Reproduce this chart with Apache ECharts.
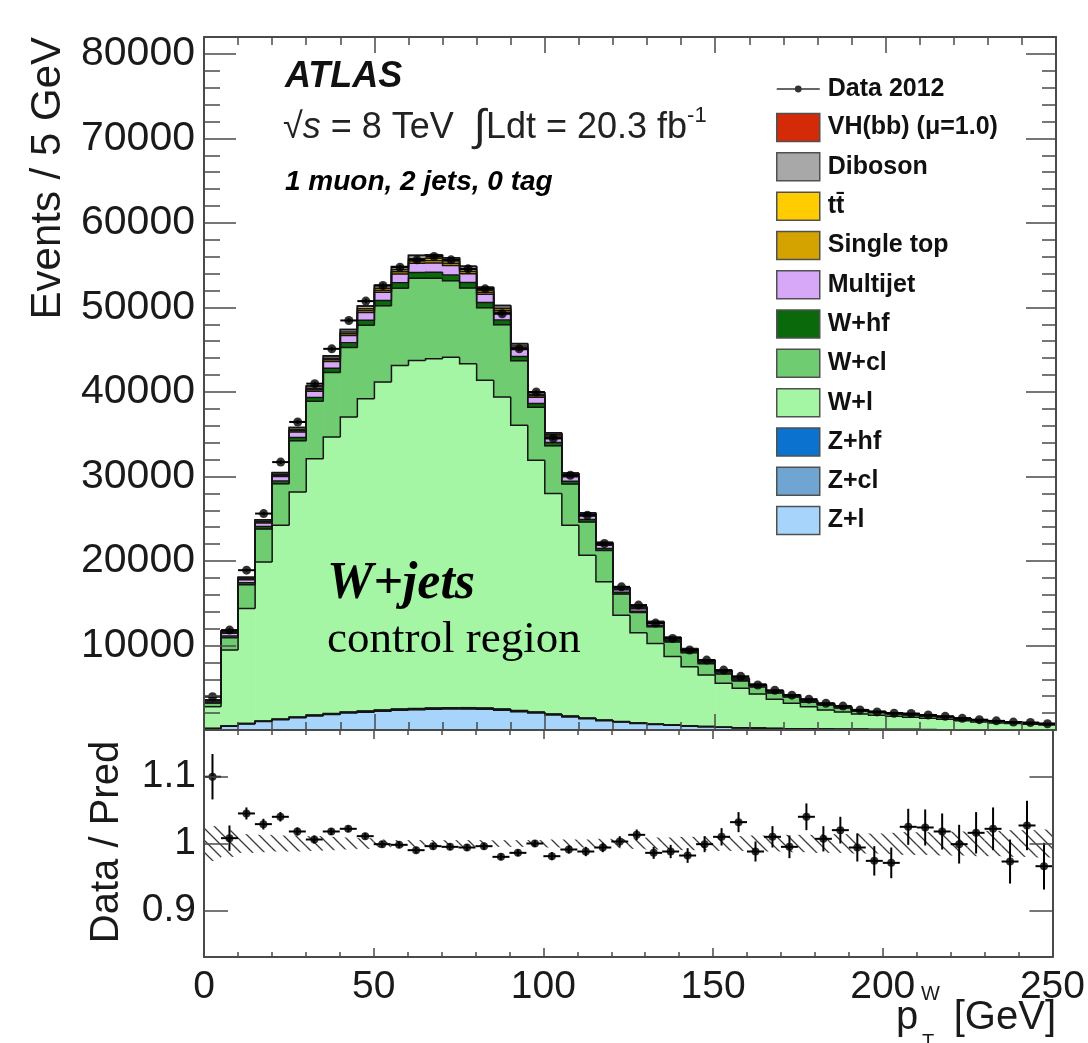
<!DOCTYPE html>
<html>
<head>
<meta charset="utf-8">
<script src="https://cdn.jsdelivr.net/npm/echarts@6/dist/echarts.min.js"></script>
<style>
  html, body { margin: 0; padding: 0; background: #ffffff; }
  #chart { width: 1088px; height: 1043px; }
</style>
</head>
<body>
<div id="chart"></div>
<script>
// ---- binning: p_T^W in 5 GeV bins ----
const binEdges = [0,5,10,15,20,25,30,35,40,45,50,55,60,65,70,75,80,85,90,95,100,105,110,115,120,125,130,135,140,145,150,155,160,165,170,175,180,185,190,195,200,205,210,215,220,225,230,235,240,245,250];

// ---- observed events per bin ----
const dataCounts = [3940,11820,18910,25610,31700,36450,40980,45100,48460,50750,52600,54760,55630,56030,55630,54570,52200,49250,45100,39990,34500,30140,25410,22070,16940,14780,12650,10840,9460,8270,7090,6350,5330,4700,4120,3650,3160,2830,2380,2140,1980,1950,1780,1620,1380,1220,1080,935,885,735];

// ---- predicted events per bin, per process (stack order bottom -> top) ----
const zLight    = [169,442,723,996,1221,1448,1663,1833,2002,2115,2219,2331,2388,2444,2481,2481,2444,2331,2161,2002,1777,1551,1335,1109,940,781,657,554,461,386,320,263,217,178,151,122,103,90,75,66,56,49,42,37,32,29,26,23,20,17];
const zCl       = [8,21,35,48,59,69,80,88,96,101,106,112,114,117,119,119,117,112,104,96,85,74,64,53,45,37,32,27,22,18,15,13,10,9,7,6,5,4,4,3,3,2,2,2,2,1,1,1,1,1];
const zHf       = [3,7,12,16,20,23,27,29,32,34,35,37,38,39,40,40,39,37,35,32,28,25,21,18,15,12,11,9,7,6,5,4,3,3,2,2,2,1,1,1,1,1,1,1,1,0,0,0,0,0];
const wLight    = [2580,8990,13610,18830,22930,26630,30340,32720,34900,36950,38810,40660,41190,41340,41480,40700,38770,36920,33750,29780,26090,22580,19270,16350,12590,10690,9550,8110,6990,6090,5180,4650,4020,3440,3000,2630,2250,2035,1810,1680,1560,1458,1335,1225,1055,920,808,731,659,582];
const wCl       = [420,1470,2820,3900,4900,6050,6780,7630,8240,8700,9030,9130,9710,9510,9040,8960,8590,8550,7640,6280,5640,4880,3930,3720,2500,2370,1960,1720,1660,1350,1120,880,850,750,740,535,585,475,340,305,285,265,245,220,195,165,147,135,116,102];
const wHf       = [100,200,225,275,340,400,460,500,540,575,610,650,690,700,690,650,610,575,510,450,390,325,275,240,200,175,155,140,120,110,95,85,75,68,60,54,49,44,40,36,34,31,29,26,24,21,20,18,16,15];
const multijet  = [160,320,360,440,540,640,740,800,860,920,980,1040,1100,1120,1100,1040,980,920,820,720,620,520,440,380,320,280,248,220,196,172,152,136,120,108,96,86,78,70,64,58,54,50,46,42,38,34,31,28,26,23];
const singleTop = [40,80,90,110,135,160,185,200,215,230,245,260,275,280,275,260,245,230,205,180,155,130,110,95,80,70,62,55,49,43,38,34,30,27,24,22,20,18,16,15,14,13,12,11,10,9,8,7,6,6];
const ttbar     = [30,60,75,95,120,145,170,185,200,215,230,245,260,265,262,250,238,225,200,178,155,132,112,98,84,74,66,59,53,47,42,38,34,31,28,25,23,21,19,18,17,16,15,14,12,11,10,9,8,7];
const diboson   = [56,112,126,154,189,224,259,280,301,322,343,364,385,392,385,364,343,322,287,252,217,182,154,133,112,98,87,77,69,60,53,48,42,38,34,30,27,25,22,20,19,18,16,15,13,12,11,10,9,8];
const vhbb      = [2,4,5,6,7,8,9,10,11,12,12,13,14,14,14,13,12,12,10,9,8,7,6,5,4,4,3,3,3,2,2,2,2,1,1,1,1,1,1,1,1,1,1,1,1,1,1,0,0,0];

// ---- data / prediction ----
const ratioValues = [1.100,1.008,1.045,1.029,1.040,1.018,1.006,1.018,1.022,1.011,0.999,0.998,0.990,0.996,0.995,0.994,0.996,0.980,0.986,1.000,0.981,0.991,0.988,0.994,1.003,1.013,0.986,0.988,0.982,0.999,1.010,1.032,0.988,1.010,0.995,1.040,1.007,1.020,0.994,0.974,0.971,1.025,1.024,1.018,0.999,1.016,1.022,0.973,1.027,0.966];
const ratioErrors = [0.034,0.019,0.009,0.008,0.007,0.006,0.006,0.005,0.005,0.005,0.005,0.005,0.005,0.005,0.005,0.005,0.005,0.005,0.005,0.005,0.006,0.006,0.007,0.007,0.008,0.008,0.009,0.010,0.011,0.012,0.013,0.015,0.015,0.016,0.017,0.020,0.019,0.020,0.021,0.022,0.023,0.027,0.027,0.027,0.029,0.031,0.032,0.033,0.037,0.035];
// relative MC statistical uncertainty (hatched band)
const mcStatBand = [0.026,0.020,0.014,0.013,0.012,0.012,0.011,0.010,0.009,0.008,0.006,0.005,0.005,0.005,0.005,0.005,0.005,0.005,0.005,0.005,0.006,0.006,0.006,0.007,0.007,0.008,0.009,0.009,0.010,0.010,0.011,0.011,0.012,0.012,0.013,0.013,0.014,0.014,0.015,0.015,0.016,0.017,0.017,0.018,0.018,0.019,0.019,0.020,0.020,0.021];

// ---- tick values ----
const xTicks = [0, 50, 100, 150, 200, 250];
const ratioTicks = [0.9, 1, 1.1];

// process list, bottom of the stack first
const processes = [
  { name: 'Z+l',              values: zLight,    color: '#a6d4fa' },
  { name: 'Z+cl',             values: zCl,       color: '#6fa4d3' },
  { name: 'Z+hf',             values: zHf,       color: '#0b72d0' },
  { name: 'W+l',              values: wLight,    color: '#a4f6a4' },
  { name: 'W+cl',             values: wCl,       color: '#70cc70' },
  { name: 'W+hf',             values: wHf,       color: '#0a690a' },
  { name: 'Multijet',         values: multijet,  color: '#d6a8f7' },
  { name: 'Single top',       values: singleTop, color: '#d4a300' },
  { name: 't' + 't\u0304',    values: ttbar,     color: '#ffcc00' },
  { name: 'Diboson',          values: diboson,   color: '#a8a8a8' },
  { name: 'VH(bb) (\u03bc=1.0)', values: vhbb,   color: '#d42a08' }
];

const SANS = "'Liberation Sans', Arial, Helvetica, sans-serif";
const SERIF = "'Liberation Serif', 'Times New Roman', serif";
const FRAME = '#4a4a4a';
const nBins = binEdges.length - 1;

// cumulative stack boundaries
const cumulative = [];
{
  const running = new Array(nBins).fill(0);
  processes.forEach(p => {
    const bottoms = running.slice();
    for (let i = 0; i < nBins; i++) running[i] += p.values[i];
    cumulative.push({ bottoms, tops: running.slice() });
  });
}

// hatch pattern for the MC uncertainty band
const hatch = document.createElement('canvas');
hatch.width = 12; hatch.height = 12;
{
  const g = hatch.getContext('2d');
  g.strokeStyle = '#3a3a3a';
  g.lineWidth = 1.3;
  g.beginPath();
  g.moveTo(-6, 6); g.lineTo(6, 18);
  g.moveTo(0, 0); g.lineTo(12, 12);
  g.moveTo(6, -6); g.lineTo(18, 6);
  g.stroke();
}

// ---- series ----
const series = [];

processes.forEach((p, k) => {
  const rows = [];
  for (let i = 0; i < nBins; i++) {
    rows.push([binEdges[i], binEdges[i + 1], cumulative[k].bottoms[i], cumulative[k].tops[i]]);
  }
  series.push({
    name: p.name,
    type: 'custom',
    xAxisIndex: 0, yAxisIndex: 0,
    z: 2,
    clip: true,
    itemStyle: { color: p.color },
    encode: { x: [0, 1], y: [2, 3] },
    data: rows,
    silent: true,
    renderItem: (params, api) => {
      const a = api.coord([api.value(0), api.value(3)]);
      const b = api.coord([api.value(1), api.value(2)]);
      return {
        type: 'rect',
        shape: { x: a[0], y: a[1], width: b[0] - a[0] + 0.6, height: b[1] - a[1] + 0.4 },
        style: { fill: p.color }
      };
    }
  });
});

// black step outlines of every stacked histogram
{
  const rows = [];
  for (let i = 0; i < nBins; i++) {
    const row = [binEdges[i], binEdges[i + 1]];
    cumulative.forEach(c => row.push(c.tops[i]));
    cumulative.forEach(c => row.push(i > 0 ? c.tops[i - 1] : c.tops[i]));
    rows.push(row);
  }
  const nP = processes.length;
  series.push({
    name: 'stackOutline',
    type: 'custom',
    xAxisIndex: 0, yAxisIndex: 0,
    z: 3,
    clip: true,
    silent: true,
    encode: { x: [0, 1], y: [2] },
    data: rows,
    renderItem: (params, api) => {
      const children = [];
      const x0 = api.value(0), x1 = api.value(1);
      for (let k = 0; k < nP; k++) {
        const top = api.value(2 + k), prev = api.value(2 + nP + k);
        const pA = api.coord([x0, prev]);
        const pB = api.coord([x0, top]);
        const pC = api.coord([x1, top]);
        children.push({
          type: 'polyline',
          shape: { points: [pA, pB, pC] },
          style: { stroke: '#151515', lineWidth: 1.5, fill: null }
        });
      }
      return { type: 'group', children };
    }
  });
}

// data points with bin-width bars
const dataRows = dataCounts.map((v, i) => [binEdges[i], binEdges[i + 1], v, v * ratioErrors[i]]);
series.push({
  name: 'dataBars',
  type: 'custom',
  xAxisIndex: 0, yAxisIndex: 0,
  z: 4, silent: true,
  encode: { x: [0, 1], y: [2] },
  data: dataRows,
  renderItem: (params, api) => {
    const x0 = api.value(0), x1 = api.value(1), y = api.value(2), e = api.value(3);
    const xm = (x0 + x1) / 2;
    const h0 = api.coord([x0, y]), h1 = api.coord([x1, y]);
    const v0 = api.coord([xm, y - e]), v1 = api.coord([xm, y + e]);
    const st = { stroke: '#000', lineWidth: 2 };
    return { type: 'group', children: [
      { type: 'line', shape: { x1: h0[0], y1: h0[1], x2: h1[0], y2: h1[1] }, style: st },
      { type: 'line', shape: { x1: v0[0], y1: v0[1], x2: v1[0], y2: v1[1] }, style: st }
    ]};
  }
});
series.push({
  name: 'Data 2012',
  type: 'scatter',
  xAxisIndex: 0, yAxisIndex: 0,
  z: 5, silent: true,
  symbol: 'circle', symbolSize: 9,
  itemStyle: { color: '#000' },
  data: dataCounts.map((v, i) => [(binEdges[i] + binEdges[i + 1]) / 2, v])
});

// ratio panel: MC stat band
series.push({
  name: 'mcBand',
  type: 'custom',
  xAxisIndex: 2, yAxisIndex: 2,
  z: 2, silent: true, clip: true,
  encode: { x: [0, 1], y: [2] },
  data: mcStatBand.map((e, i) => [binEdges[i], binEdges[i + 1], e]),
  renderItem: (params, api) => {
    const e = api.value(2);
    const a = api.coord([api.value(0), 1 + e]);
    const b = api.coord([api.value(1), 1 - e]);
    return {
      type: 'rect',
      shape: { x: a[0], y: a[1], width: b[0] - a[0], height: b[1] - a[1] },
      style: { fill: { image: hatch, repeat: 'repeat' } }
    };
  }
});
// ratio panel: points with error bars
series.push({
  name: 'ratioBars',
  type: 'custom',
  xAxisIndex: 2, yAxisIndex: 2,
  z: 4, silent: true, clip: true,
  encode: { x: [0, 1], y: [2] },
  data: ratioValues.map((r, i) => [binEdges[i], binEdges[i + 1], r, ratioErrors[i]]),
  renderItem: (params, api) => {
    const x0 = api.value(0), x1 = api.value(1), y = api.value(2), e = api.value(3);
    const xm = (x0 + x1) / 2;
    const h0 = api.coord([x0, y]), h1 = api.coord([x1, y]);
    const v0 = api.coord([xm, y - e]), v1 = api.coord([xm, y + e]);
    const st = { stroke: '#000', lineWidth: 2 };
    return { type: 'group', children: [
      { type: 'line', shape: { x1: h0[0], y1: h0[1], x2: h1[0], y2: h1[1] }, style: st },
      { type: 'line', shape: { x1: v0[0], y1: v0[1], x2: v1[0], y2: v1[1] }, style: st }
    ]};
  }
});
series.push({
  name: 'ratioPoints',
  type: 'scatter',
  xAxisIndex: 2, yAxisIndex: 2,
  z: 5, silent: true,
  symbol: 'circle', symbolSize: 8,
  itemStyle: { color: '#000' },
  data: ratioValues.map((r, i) => [(binEdges[i] + binEdges[i + 1]) / 2, r])
});

// ---- axes ----
const xLabelFont = { fontFamily: SANS, fontSize: 39, color: '#1a1a1a' };
const yLabelFont = { fontFamily: SANS, fontSize: 41, color: '#1a1a1a' };
function xAxisDef(gridIndex, position, showLabels, majorLen, minorLen) {
  return {
    type: 'value', gridIndex, position, min: 0, max: 250, interval: 50, z: 10,
    axisLine: { show: true, onZero: false, lineStyle: { color: FRAME, width: 2 } },
    axisTick: { show: true, inside: true, length: majorLen, lineStyle: { color: FRAME, width: 1.5 } },
    minorTick: { show: true, splitNumber: 5, length: minorLen, lineStyle: { color: FRAME, width: 1.5 } },
    splitLine: { show: false },
    axisLabel: showLabels
      ? Object.assign({ show: true, margin: 11, customValues: xTicks, formatter: v => String(v) }, xLabelFont)
      : { show: false }
  };
}
function yMainDef(position, showLabels, majorLen, minorLen) {
  return {
    type: 'value', gridIndex: 0, position, min: 0, max: 82000, interval: 10000, z: 10,
    axisLine: { show: true, onZero: false, lineStyle: { color: FRAME, width: 2 } },
    axisTick: { show: true, inside: true, length: majorLen, lineStyle: { color: FRAME, width: 1.5 } },
    minorTick: { show: true, splitNumber: 5, length: minorLen, lineStyle: { color: FRAME, width: 1.5 } },
    splitLine: { show: false },
    axisLabel: showLabels
      ? Object.assign({ show: true, margin: 9, showMinLabel: false, showMaxLabel: false,
          formatter: v => (v === 0 ? '' : String(v)) }, yLabelFont)
      : { show: false }
  };
}
function yRatioDef(position, showLabels, majorLen) {
  return {
    type: 'value', gridIndex: 1, position, min: 0.83, max: 1.17, z: 10,
    axisLine: { show: true, onZero: false, lineStyle: { color: FRAME, width: 2 } },
    axisTick: { show: true, inside: true, length: majorLen, customValues: ratioTicks, lineStyle: { color: FRAME, width: 1.5 } },
    splitLine: { show: false },
    axisLabel: showLabels
      ? Object.assign({ show: true, margin: 8, customValues: ratioTicks,
          formatter: v => (Math.abs(v - 1) < 1e-9 ? '1' : v.toFixed(1)) }, xLabelFont)
      : { show: false }
  };
}

// ---- legend ----
const legendItems = [{
  name: 'Data 2012',
  icon: 'path://M0,0h0.1v0.1h-0.1Z M43,28h-0.1v-0.1h0.1Z M0,13.2h43v1.6h-43Z M21.5,10.6a3.4,3.4 0 1,1 0,6.8a3.4,3.4 0 1,1 0,-6.8Z',
  itemStyle: { color: '#000', borderWidth: 0 }
}];
processes.slice().reverse().forEach(p => {
  legendItems.push({ name: p.name, icon: 'rect', itemStyle: { color: p.color, borderColor: '#505050', borderWidth: 1.5 } });
});

// ---- text annotations ----
const graphics = [
  { type: 'text', x: 285, y: 77, style: { text: 'ATLAS', font: `italic bold 36px ${SANS}`, fill: '#111', verticalAlign: 'middle', align: 'left' } },
  { type: 'text', x: 283, y: 128, style: {
      text: '{r|\u221a}{i|s}{r| = 8 TeV  }{int|\u222b}{r|Ldt = 20.3 fb}{sup|-1}',
      verticalAlign: 'middle', align: 'left', fill: '#222',
      rich: {
        r:   { fontFamily: SANS, fontSize: 36, lineHeight: 46, fill: '#222' },
        i:   { fontFamily: SANS, fontSize: 36, lineHeight: 46, fontStyle: 'italic', fill: '#222' },
        int: { fontFamily: SANS, fontSize: 44, lineHeight: 46, fill: '#222' },
        sup: { fontFamily: SANS, fontSize: 22, lineHeight: 46, verticalAlign: 'top', fill: '#222' }
      } } },
  { type: 'text', x: 285, y: 182, style: { text: '1 muon, 2 jets, 0 tag', font: `italic bold 28px ${SANS}`, fill: '#000', verticalAlign: 'middle', align: 'left' } },
  { type: 'text', x: 327, y: 585, z: 20, style: { text: 'W+jets', font: `italic bold 52px ${SERIF}`, fill: '#000', verticalAlign: 'middle', align: 'left' } },
  { type: 'text', x: 327, y: 640, z: 20, style: { text: 'control region', font: `45px ${SERIF}`, fill: '#000', verticalAlign: 'middle', align: 'left' } },
  // axis titles
  { type: 'text', x: 48, y: 37, rotation: Math.PI / 2, style: { text: 'Events / 5 GeV', font: `42px ${SANS}`, fill: '#1a1a1a', verticalAlign: 'middle', align: 'right' } },
  { type: 'text', x: 107, y: 842, rotation: Math.PI / 2, style: { text: 'Data / Pred', font: `40px ${SANS}`, fill: '#1a1a1a', verticalAlign: 'middle', align: 'center' } },
  { type: 'text', x: 1056, y: 1018, style: { text: '[GeV]', font: `40px ${SANS}`, fill: '#1a1a1a', verticalAlign: 'middle', align: 'right' } },
  { type: 'text', x: 896, y: 1018, style: { text: 'p', font: `40px ${SANS}`, fill: '#1a1a1a', verticalAlign: 'middle', align: 'left' } },
  { type: 'text', x: 921, y: 994, style: { text: 'W', font: `20px ${SANS}`, fill: '#1a1a1a', verticalAlign: 'middle', align: 'left' } },
  { type: 'text', x: 922, y: 1042, style: { text: 'T', font: `20px ${SANS}`, fill: '#1a1a1a', verticalAlign: 'middle', align: 'left' } }
];

const chart = echarts.init(document.getElementById('chart'), null, { renderer: 'canvas' });
chart.setOption({
  animation: false,
  backgroundColor: '#ffffff',
  textStyle: { fontFamily: SANS },
  grid: [
    { left: 204, right: 32, top: 37, height: 693 },
    { left: 204, right: 32, top: 730, height: 227 }
  ],
  xAxis: [
    xAxisDef(0, 'bottom', false, 16, 8),
    xAxisDef(0, 'top', false, 16, 8),
    xAxisDef(1, 'bottom', true, 9, 5),
    xAxisDef(1, 'top', false, 9, 5)
  ],
  yAxis: [
    yMainDef('left', true, 32, 16),
    yMainDef('right', false, 30, 14),
    yRatioDef('left', true, 24),
    yRatioDef('right', false, 23)
  ],
  legend: {
    show: true,
    orient: 'vertical',
    left: 771, top: 70,
    padding: 5,
    itemWidth: 43, itemHeight: 28, itemGap: 9.8,
    selectedMode: false,
    textStyle: { fontFamily: SANS, fontSize: 25, fontWeight: 'bold', color: '#111', padding: [0, 0, 0, 3] },
    data: legendItems
  },
  graphic: graphics,
  series
});
</script>
</body>
</html>
